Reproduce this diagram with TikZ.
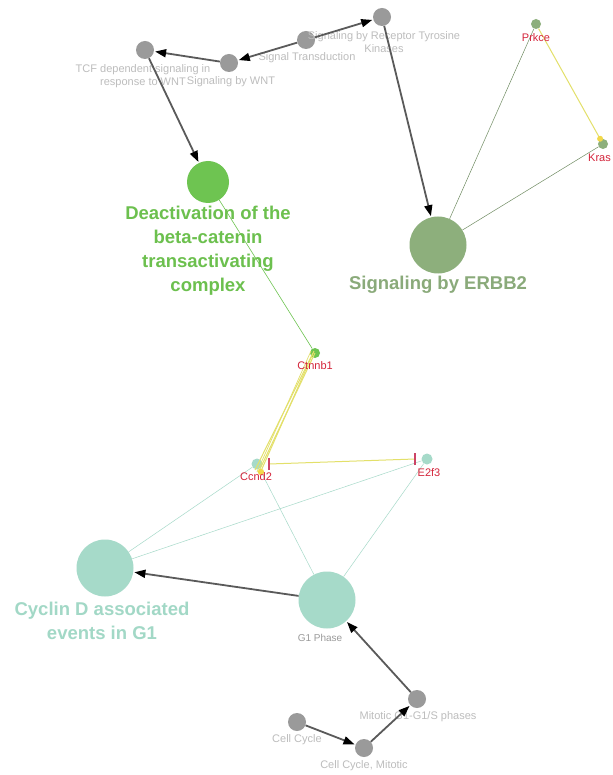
\documentclass[tikz,border=0pt]{standalone}
\usepackage{fontspec}
\setmainfont{Liberation Sans}
\usetikzlibrary{arrows.meta,calc}
\definecolor{gnode}{HTML}{9A9A9A}
\definecolor{glabel}{HTML}{BDBDBD}
\definecolor{darrow}{HTML}{5A5A5A}
\definecolor{deact}{HTML}{6EC451}
\definecolor{deacttxt}{HTML}{6CC04E}
\definecolor{erbb}{HTML}{8DAF7C}
\definecolor{erbbtxt}{HTML}{8AAA7A}
\definecolor{cyc}{HTML}{A6DAC9}
\definecolor{cyctxt}{HTML}{A2D8C6}
\definecolor{gene}{HTML}{D4243A}
\definecolor{yel}{HTML}{E3E06A}
\definecolor{ydot}{HTML}{F2D84A}
\definecolor{bar}{HTML}{CC4466}
\tikzset{
  gnodes/.style={circle,fill=gnode,inner sep=0,minimum size=18pt},
  glab/.style={text=glabel,font=\fontsize{11}{13}\selectfont,align=center,inner sep=0},
  big/.style={circle,inner sep=0,minimum size=#1},
  small/.style={circle,inner sep=0,minimum size=10pt},
  genelab/.style={text=gene,font=\fontsize{11}{13}\selectfont,inner sep=0},
  boldlab/.style={font=\bfseries\fontsize{18.5}{24}\selectfont,align=center,inner sep=0},
  arr/.style={draw=darrow,line width=1.8pt,-{Triangle[length=11pt,width=8pt,color=black]},shorten >=1pt},
  thin/.style={line width=0.5pt},
  yline/.style={draw=yel,line width=1pt}
}
\begin{document}
\begin{tikzpicture}[x=1pt,y=-1pt]
\useasboundingbox[fill=white] (0,0) rectangle (612,775);
\node[big=42pt,fill=deact] (deact) at (208,182) {};
\node[big=57pt,fill=erbb] (erbb) at (438,245) {};
\node[big=57pt,fill=cyc] (cyclin) at (105,568) {};
\node[big=57pt,fill=cyc] (g1) at (327,600) {};
\node[small,fill=erbb] (prkce) at (536,24) {};
\node[small,fill=erbb] (kras) at (603,144) {};
\node[small,fill=deact] (ctnnb1) at (315,353) {};
\node[small,fill=cyc,minimum size=11pt] (ccnd2) at (257,464) {};
\node[small,fill=cyc,minimum size=11pt] (e2f3) at (427,459) {};

% thin association edges
\draw[thin,draw=erbb!80!black] (erbb) -- (prkce);
\draw[thin,draw=erbb!80!black] (erbb) -- (kras);
\draw[line width=0.6pt,draw=deact] (deact) -- (ctnnb1);
\draw[thin,draw=cyc] (cyclin) -- (ccnd2);
\draw[thin,draw=cyc] (cyclin) -- (e2f3);
\draw[thin,draw=cyc] (g1) -- (ccnd2);
\draw[thin,draw=cyc] (g1) -- (e2f3);

% yellow interaction edges
\draw[yline] (prkce) -- (kras);
\fill[ydot] ($(kras)!6pt!(prkce)$) circle (3pt);
\draw[yline] ([xshift=-2pt]ctnnb1.center) -- ([xshift=-2pt,yshift=-6pt]ccnd2.center);
\draw[yline] ([xshift=0pt]ctnnb1.center) -- ([xshift=2pt,yshift=-7pt]ccnd2.center);
\draw[yline] ([xshift=-1pt,yshift=2pt]ctnnb1.center) -- ([xshift=4pt,yshift=-7pt]ccnd2.center);
\draw[yline,line width=0.7pt] ([xshift=-4pt,yshift=2pt]ctnnb1.center) -- ([xshift=0pt,yshift=-8pt]ccnd2.center);
\fill[ydot] ([xshift=4pt,yshift=-8pt]ccnd2.center) circle (3.2pt);
\coordinate (b1) at ([xshift=12pt]ccnd2.center);
\coordinate (b2) at ([xshift=-12pt]e2f3.center);
\draw[yline] (b1) -- (b2);
\draw[bar,line width=1.2pt] ([yshift=-6pt]b1) -- ([yshift=6pt]b1);
\draw[bar,line width=1.2pt] ([yshift=-6pt]b2) -- ([yshift=6pt]b2);

% gray pathway nodes
\node[gnodes] (tcf) at (145,50) {};
\node[gnodes] (wnt) at (229,63) {};
\node[gnodes] (st) at (306,40) {};
\node[gnodes] (rtk) at (382,17) {};
\node[gnodes] (cc) at (297,722) {};
\node[gnodes] (ccm) at (364,748) {};
\node[gnodes] (mg1) at (417,699) {};

% labels
\node[glab] (tcfl) at (143,76) {TCF dependent signaling in\\response to WNT};
\node[glab] (wntl) at (231,82) {Signaling by WNT};
\node[glab] (stl) at (307,58) {Signal Transduction};
\node[glab] (rtkl) at (384,42) {Signaling by Receptor Tyrosine\\Kinases};
\node[glab] (ccl) at (297,740) {Cell Cycle};
\node[glab] (ccml) at (364,766) {Cell Cycle, Mitotic};
\node[glab] (mg1l) at (418,717) {Mitotic G1-G1/S phases};
\node[glab,text=gnode,font=\fontsize{10}{12}\selectfont] (g1l) at (320,638) {G1 Phase};

\node[boldlab,text=deacttxt] (deactl) at (208,251) {Deactivation of the\\beta-catenin\\transactivating\\complex};
\node[boldlab,text=erbbtxt] (erbbl) at (438,285) {Signaling by ERBB2};
\node[boldlab,text=cyctxt] (cyclinl) at (102,621) {Cyclin D associated\\events in G1};

\node[genelab] (prkcel) at (536,38) {Prkce};
\node[genelab,anchor=east] (krasl) at (611,158) {Kras};
\node[genelab] (ctnnb1l) at (315,366) {Ctnnb1};
\node[genelab] (ccnd2l) at (256,477) {Ccnd2};
\node[genelab] (e2f3l) at (429,473) {E2f3};

% directed arrows
\draw[arr] (st) -- (rtk);
\draw[arr] (st) -- (wnt);
\draw[arr] (wnt) -- (tcf);
\draw[arr] (tcf) -- (deact);
\draw[arr] (rtk) -- (erbb);
\draw[arr] (g1) -- (cyclin);
\draw[arr] (cc) -- (ccm);
\draw[arr] (ccm) -- (mg1);
\draw[arr] (mg1) -- (g1);
\end{tikzpicture}
\end{document}
